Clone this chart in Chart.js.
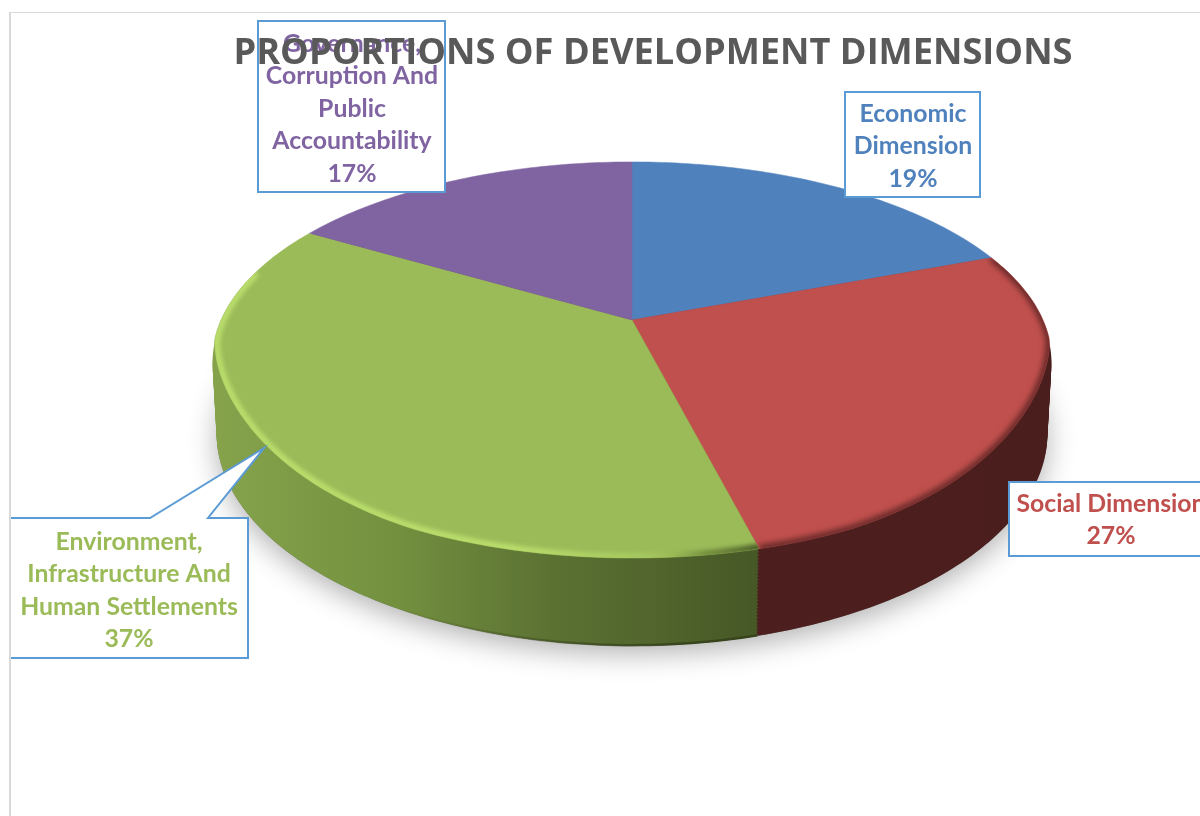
<!DOCTYPE html>
<html>
<head>
<meta charset="utf-8">
<title>Proportions of development dimensions</title>
<script src="https://cdn.jsdelivr.net/npm/chart.js@4"></script>
<style>
  html, body { margin: 0; height: 100%; background: #fff; overflow: hidden; }
  #frame { position: absolute; left: 9px; top: 12px; border-left: 2px solid #d9d9d9; border-top: 1px solid #d9d9d9; }
  canvas { display: block; }
</style>
</head>
<body>
<div id="frame"><canvas id="pieChart" width="1284" height="803"></canvas></div>
<script>
// Chart data
const titleText = 'PROPORTIONS OF DEVELOPMENT DIMENSIONS';
const categories = ['Economic Dimension', 'Social Dimension', 'Environment, Infrastructure And Human Settlements', 'Governance, Corruption And Public Accountability'];
const shares = [19.3, 26.7, 37.4, 16.6];
const sliceColors = ['#4f81bd', '#c0504d', '#9bbb59', '#8064a2'];
const labelLines = [
    ['Economic', 'Dimension'],
    ['Social Dimension'],
    ['Environment,', 'Infrastructure And', 'Human Settlements'],
    ['Governance,', 'Corruption And', 'Public', 'Accountability']
];

// Page position of the canvas, everything below is in page pixels
const originX = 11;
const originY = 13;

// Perspective of the tilted disc
const pie = { cx: 632, cy: 320, rx: 411, ry: 190, tilt: 0.202, depth: 70, baseShrink: 0.01, bevel: 0.024 };

// Callout boxes, one per slice, same order as the data
const boxes = [
    { left: 845, top: 92, right: 980, bottom: 197, textX: 913, textY: 114 },
    { left: 1009, top: 482, right: 1213, bottom: 556, textX: 1111, textY: 504 },
    { left: 10, top: 518, right: 248, bottom: 658, textX: 129, textY: 542, tail: [[208, 518], [264, 448], [150, 518]] },
    { left: 258, top: 21, right: 445, bottom: 192, textX: 352, textY: 44 }
];
const lineStep = 32.5;

// Where a point of the disc rim lands on the page. level 0 = top face, 1 = base
function project(angle, level, scale) {
    const u = Math.cos(angle) * scale;
    const v = Math.sin(angle) * scale;
    const w = 1 - pie.tilt * v;
    const shrink = 1 - pie.baseShrink * level;
    return [pie.cx + pie.rx * u * shrink / w, pie.cy + (pie.ry * v + pie.depth * level) / w];
}

// The rounded edge eats into the top face on the front flanks, none at the back
function bevelScale(angle) {
    const v = Math.sin(angle);
    if (v < 0.1 || v > 0.9) return 1;
    return 1 - pie.bevel * Math.sin(Math.PI * (v - 0.1) / 0.8);
}

function traceRim(ctx, start, end, level, scale, join, beveled) {
    const steps = Math.ceil(Math.abs(end - start) * 60);
    for (let i = 0; i <= steps; i++) {
        const a = start + (end - start) * i / steps;
        const p = project(a, level, beveled ? scale * bevelScale(a) : scale);
        if (i === 0 && !join) ctx.moveTo(p[0], p[1]);
        else ctx.lineTo(p[0], p[1]);
    }
}

function sliceAt(ctx, arc, level, beveled) {
    const apex = project(0, level, 0);
    ctx.beginPath();
    ctx.moveTo(apex[0], apex[1]);
    traceRim(ctx, arc.startAngle, arc.endAngle, level, 1, true, beveled);
    ctx.closePath();
}

function wallGradient(ctx, index) {
    const g = ctx.createLinearGradient(212, 0, 1052, 0);
    if (index === 2) {
        g.addColorStop(0, '#86a34c');
        g.addColorStop(0.22, '#73903f');
        g.addColorStop(0.4, '#5c7233');
        g.addColorStop(0.65, '#465826');
        g.addColorStop(1, '#465826');
    } else {
        g.addColorStop(0, '#521f1f');
        g.addColorStop(1, '#4b1e1e');
    }
    return g;
}

function drawShadow(ctx) {
    ctx.save();
    ctx.shadowColor = 'rgba(0,0,0,0.3)';
    ctx.shadowBlur = 28;
    ctx.shadowOffsetY = 8;
    ctx.fillStyle = '#777';
    ctx.beginPath();
    traceRim(ctx, 0, Math.PI * 2, 1, 1, false);
    ctx.closePath();
    ctx.fill();
    ctx.restore();
}

function drawWalls(ctx, arcs) {
    // stack the slices from the base up, so the flanks keep a clean outline
    for (let level = 1; level >= 0; level -= 0.04) {
        arcs.forEach((arc, i) => {
            ctx.fillStyle = wallGradient(ctx, i);
            sliceAt(ctx, arc, Math.max(level, 0), false);
            ctx.fill();
        });
    }
    // thin dark lip along the front of the green base
    const lip = ctx.createLinearGradient(400, 0, 700, 0);
    lip.addColorStop(0, 'rgba(55,68,28,0)');
    lip.addColorStop(1, 'rgba(55,68,28,1)');
    ctx.strokeStyle = lip;
    ctx.lineWidth = 2.5;
    ctx.beginPath();
    traceRim(ctx, arcs[2].startAngle, arcs[2].endAngle, 1, 0.998, false);
    ctx.stroke();
}

function drawTops(ctx, arcs) {
    arcs.forEach(arc => {
        sliceAt(ctx, arc, 0, true);
        ctx.fillStyle = arc.options.backgroundColor;
        ctx.strokeStyle = arc.options.backgroundColor;
        ctx.lineWidth = 0.5;
        ctx.fill();
        ctx.stroke();
    });

    // soft bevel on the red edge
    ctx.save();
    sliceAt(ctx, arcs[1], 0, true);
    ctx.clip();
    ctx.filter = 'blur(3px)';
    ctx.strokeStyle = '#4f1f1f';
    ctx.lineWidth = 6;
    ctx.beginPath();
    traceRim(ctx, arcs[1].startAngle, arcs[1].endAngle, 0, 1, false, true);
    ctx.stroke();
    ctx.restore();

    // highlight on the green edge, fading out to the front
    ctx.save();
    sliceAt(ctx, arcs[2], 0, true);
    ctx.clip();
    const shine = ctx.createLinearGradient(212, 0, 760, 0);
    shine.addColorStop(0, 'rgba(186,222,108,1)');
    shine.addColorStop(0.55, 'rgba(186,222,108,1)');
    shine.addColorStop(0.8, 'rgba(186,222,108,0.35)');
    shine.addColorStop(0.9, 'rgba(100,125,50,0.7)');
    shine.addColorStop(1, 'rgba(70,88,38,1)');
    ctx.filter = 'blur(2px)';
    ctx.strokeStyle = shine;
    ctx.lineWidth = 7;
    ctx.lineCap = 'round';
    ctx.beginPath();
    traceRim(ctx, arcs[2].startAngle, Math.PI * 1.08, 0, 0.995, false, true);
    ctx.stroke();
    ctx.restore();
}

function drawCallouts(ctx) {
    boxes.forEach((box, i) => {
        ctx.beginPath();
        ctx.moveTo(box.left, box.top);
        if (box.tail) box.tail.slice().reverse().forEach(p => ctx.lineTo(p[0], p[1]));
        ctx.lineTo(box.right, box.top);
        ctx.lineTo(box.right, box.bottom);
        ctx.lineTo(box.left, box.bottom);
        ctx.closePath();
        ctx.fillStyle = '#fff';
        ctx.fill();
        ctx.strokeStyle = '#5b9bd5';
        ctx.lineWidth = 2;
        ctx.stroke();

        const lines = labelLines[i].concat(Math.round(shares[i]) + '%');
        ctx.fillStyle = sliceColors[i];
        ctx.font = 'bold 24.8px Lato';
        ctx.textAlign = 'center';
        ctx.textBaseline = 'middle';
        lines.forEach((line, n) => ctx.fillText(line, box.textX, box.textY + n * lineStep));
    });
}

// Draws the 3D disc from the arc elements the library laid out. It all happens in
// beforeDraw because the title has to land on top of the Governance box.
const pie3d = {
    id: 'pie3d',
    beforeDraw(chart) {
        const ctx = chart.ctx;
        const arcs = chart.getDatasetMeta(0).data;
        ctx.save();
        ctx.translate(-originX, -originY);
        drawShadow(ctx);
        drawWalls(ctx, arcs);
        drawTops(ctx, arcs);
        drawCallouts(ctx);
        ctx.restore();
    },
    beforeDatasetsDraw() {
        return false; // flat pie is replaced by the disc above
    }
};

const chart = new Chart(document.getElementById('pieChart').getContext('2d'), {
    type: 'pie',
    data: {
        labels: categories,
        datasets: [{
            data: shares,
            backgroundColor: sliceColors,
            borderWidth: 0
        }]
    },
    options: {
        responsive: false,
        animation: false,
        plugins: {
            legend: { display: false },
            tooltip: { enabled: false },
            title: {
                display: true,
                text: titleText,
                color: '#595959',
                padding: { top: 19, bottom: 0 },
                font: { family: '"Open Sans"', size: 36.2, weight: 'bold' }
            }
        }
    },
    plugins: [pie3d]
});
</script>
</body>
</html>
